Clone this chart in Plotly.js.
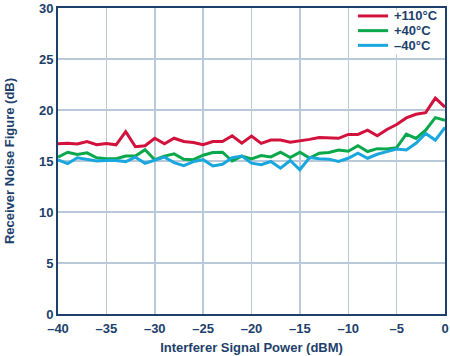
<!DOCTYPE html>
<html><head><meta charset="utf-8">
<script src="https://cdn.plot.ly/plotly-3.0.1.min.js"></script>
<style>html,body{margin:0;padding:0;background:#fff}#c{width:450px;height:356px}</style>
</head><body><div id="c"></div>
<script>
const power = [-40,-39,-38,-37,-36,-35,-34,-33,-32,-31,-30,-29,-28,-27,-26,-25,-24,-23,-22,-21,-20,-19,-18,-17,-16,-15,-14,-13,-12,-11,-10,-9,-8,-7,-6,-5,-4,-3,-2,-1,0];
const nf110 = [16.69,16.75,16.66,16.91,16.59,16.72,16.59,17.87,16.40,16.50,17.23,16.69,17.23,16.91,16.82,16.59,16.91,16.91,17.48,16.75,17.44,16.73,17.05,17.05,16.83,16.96,17.12,17.31,17.28,17.22,17.60,17.60,18.02,17.47,18.09,18.58,19.22,19.58,19.74,21.17,20.29];
const nf40 = [15.38,15.86,15.64,15.80,15.32,15.22,15.22,15.48,15.48,16.11,15.13,15.48,15.70,15.16,15.13,15.57,15.83,15.86,15.00,15.48,15.21,15.53,15.40,15.86,15.34,15.86,15.28,15.76,15.83,16.08,15.95,16.50,15.93,16.21,16.18,16.31,17.64,17.21,18.02,19.25,19.00];
const nfm40 = [15.10,14.75,15.32,15.13,15.00,15.06,15.06,14.94,15.38,14.78,15.10,15.38,14.84,14.55,14.94,15.13,14.52,14.68,15.32,15.48,14.79,14.63,14.95,14.30,15.05,14.14,15.34,15.21,15.18,14.95,15.27,15.76,15.27,15.66,15.92,16.18,16.08,16.73,17.70,17.05,18.28];
const seriesNames = ['+110°C','+40°C','–40°C'];
const xTickVals = [-40,-35,-30,-25,-20,-15,-10,-5,0];
const xTickText = ['–40','–35','–30','–25','–20','–15','–10','–5','0'];
const yTickVals = [0,5,10,15,20,25,30];

const colors = ['#d2123c','#0aa84a','#1aa7de'];
const navy = '#1d3f6b';
const traces = [nf110, nf40, nfm40].map((ys,i)=>({
  x: power, y: ys, type:'scatter', mode:'lines', name: seriesNames[i],
  line:{color:colors[i], width:3}, showlegend:false
}));
const font = {family:'Liberation Sans, Arial, sans-serif', size:13, color:navy, weight:'bold'};
const legFont = {family:'Liberation Sans, Arial, sans-serif', size:13, color:navy, weight:'bold'};

// custom legend (compact row spacing like the reference)
const rowY = [0.974, 0.926, 0.878];
const shapes = [{type:'rect', xref:'paper', yref:'paper', x0:0.760, x1:0.997, y0:0.848, y1:0.992,
  fillcolor:'#fff', line:{width:0}, layer:'above'}];
const annotations = [];
seriesNames.forEach((n,i)=>{
  shapes.push({type:'line', xref:'paper', yref:'paper', x0:0.775, x1:0.853, y0:rowY[i], y1:rowY[i],
    line:{color:colors[i], width:3}, layer:'above'});
  annotations.push({xref:'paper', yref:'paper', x:0.866, y:rowY[i], xanchor:'left', yanchor:'middle',
    text:n, showarrow:false, font:legFont, borderpad:0});
});

const layout = {
  width:450, height:356,
  margin:{l:58,r:5,t:8,b:42},
  paper_bgcolor:'#fff', plot_bgcolor:'#fff',
  font: font,
  showlegend:false,
  shapes: shapes, annotations: annotations,
  xaxis:{range:[-40,0], tickvals:xTickVals, ticktext:xTickText, showgrid:true, gridcolor:'#b9c9d9', gridwidth:1.5,
    showline:true, mirror:true, linecolor:navy, linewidth:2, zeroline:false, ticks:'', ticklabelstandoff:1,
    tickfont:font, ticklabeloverflow:'allow', title:{text:'Interferer Signal Power (dBM)', font:font, standoff:8}},
  yaxis:{range:[0,30], tickvals:yTickVals, showgrid:true, gridcolor:'#b9c9d9', gridwidth:1.5,
    showline:true, mirror:true, linecolor:navy, linewidth:2, zeroline:false, ticks:'',
    tickfont:font, ticklabeloverflow:'allow', title:{text:'Receiver Noise Figure (dB)', font:font, standoff:21}}
};
Plotly.newPlot('c', traces, layout, {displayModeBar:false, staticPlot:true});
</script></body></html>
